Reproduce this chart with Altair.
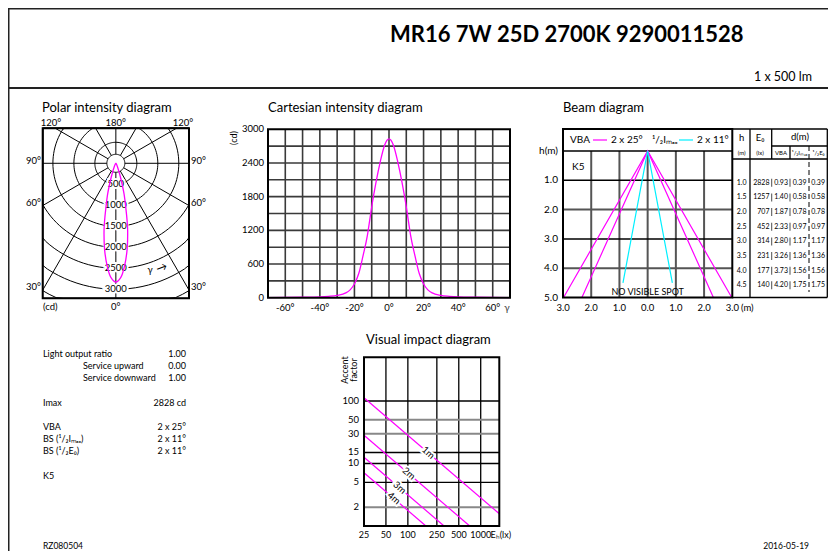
import altair as alt
import numpy as np
import pandas as pd

FONT = "Lato"
NARROW = "Liberation Sans Narrow, Lato"
MAG = "#ff00ff"
CYAN = "#00f0ff"
M = 8  # page margin of the html page

# ---------------- data ----------------
gamma_deg = [-90, -80, -70, -60, -50, -40, -35, -30, -25, -22.5, -20, -17.5, -15, -12.5, -11, -10,
             -7.5, -5, -2.5, 0, 2.5, 5, 7.5, 10, 11, 12.5, 15, 17.5, 20, 22.5, 25, 30, 35, 40,
             50, 60, 70, 80, 90]
intensity_cd = [0, 1, 3, 5, 8, 15, 25, 42, 85, 140, 245, 430, 750, 1110, 1414, 1620,
                2060, 2430, 2720, 2828, 2720, 2430, 2060, 1620, 1414, 1110, 750, 430, 245, 140, 85, 42, 25, 15,
                8, 5, 3, 1, 0]

cart_x_ticks = [-60, -40, -20, 0, 20, 40, 60]
cart_y_ticks = [0, 600, 1200, 1800, 2400, 3000]
cart_x_grid = [-60, -50, -40, -30, -20, -10, 0, 10, 20, 30, 40, 50, 60]
cart_y_grid = [300, 600, 900, 1200, 1500, 1800, 2100, 2400, 2700]

polar_rings = [214, 500, 1000, 1500, 2000, 2500, 3000, 3500, 4000]
polar_ring_labels = [500, 1000, 1500, 2000, 2500, 3000]
polar_spokes = [0, 30, 60, 90, 120, 150, 180, 210, 240, 270, 300, 330]

beam_h_ticks = [0, 1, 2, 3, 4, 5]
beam_h_labels = ["h(m)", "1.0", "2.0", "3.0", "4.0", "5.0"]
beam_x_ticks = [-3, -2, -1, 0, 1, 2, 3]
beam_x_labels = ["3.0", "2.0", "1.0", "0.0", "1.0", "2.0", "3.0"]
beam_grid_x = [-2, -1, 0, 1, 2]
beam_grid_h = [1, 2, 3, 4]
beam_grid_h_dark = [True, False, True, False]
vba_x = [-2.33, 0, 2.33]
vba_outer_x = [-2.98, 0, 2.98]
vba_h = [5, 0, 5]
half_imax_x = [-0.875, 0, 0.875]
half_imax_h = [4.5, 0, 4.5]

table_h = [1.0, 1.5, 2.0, 2.5, 3.0, 3.5, 4.0, 4.5]
table_e0 = [2828, 1257, 707, 452, 314, 231, 177, 140]
table_d_vba = [0.93, 1.40, 1.87, 2.33, 2.80, 3.26, 3.73, 4.20]
table_d_half_imax = [0.39, 0.58, 0.78, 0.97, 1.17, 1.36, 1.56, 1.75]
table_d_half_e0 = [0.39, 0.58, 0.78, 0.97, 1.17, 1.36, 1.56, 1.75]

vis_x_ticks = [25, 50, 100, 250, 500, 1000]
vis_y_ticks = [2, 5, 10, 15, 30, 50, 100]
vis_y_grid_grey = [True, False, False, False, True, True, False]
vis_names = ["1m", "2m", "3m", "4m"]
vis_line_E = [[25, 1800], [25, 707], [25, 314], [25, 177]]
vis_line_A = [[113, 1.57], [28.3, 1], [12.6, 1], [7.1, 1]]
vis_label_E = [190, 103, 77, 64]
vis_label_A = [14.9, 6.9, 4.1, 2.77]

# ---------------- panel layout (page pixels) ----------------
PAN = {
    "polar": dict(x=[-1743, 1743], xr=[42.7, 189], y=[-833, 3214], yr=[128.3, 298.3]),
    "cart": dict(x=[-70, 70], xr=[268, 510], y=[0, 3000], yr=[297.7, 129.3]),
    "beam": dict(x=[-3, 3], xr=[563, 732.3], y=[-0.75, 5], yr=[129, 297.5]),
    "vis": dict(x=[25, 1800], xr=[364, 499.3], y=[1, 500], yr=[526, 357.3], log=True),
}


def scale(p, ax, **kw):
    P = PAN[p]
    rng = [v - M for v in P[ax + "r"]]
    if P.get("log"):
        return alt.Scale(type="log", domain=P[ax], range=rng, nice=False, **kw)
    return alt.Scale(type="linear", domain=P[ax], range=rng, nice=False, zero=False, **kw)


def X(p, f="x", **kw):
    return alt.X(f"{f}:Q", axis=None, scale=scale(p, "x", **kw))


def Y(p, f="y", **kw):
    return alt.Y(f"{f}:Q", axis=None, scale=scale(p, "y", **kw))


def PX(f="x"):
    return alt.X(f"{f}:Q", axis=None, scale=None)


def PY(f="y"):
    return alt.Y(f"{f}:Q", axis=None, scale=None)


def page_text(items, size, align="left", weight="normal", angle=0, color="black", font=FONT):
    df = pd.DataFrame(items, columns=["t", "x", "y"])
    df["x"] = df["x"] - M
    df["y"] = df["y"] - M
    return alt.Chart(df).mark_text(align=align, baseline="middle", fontSize=size, fontWeight=weight,
                                   angle=angle, color=color, font=font).encode(x=PX(), y=PY(), text="t:N")


def page_rules(segs, color="black", width=1.0, dash=None):
    df = pd.DataFrame(segs, columns=["x", "y", "x2", "y2"])
    for c in ["x", "x2"]:
        df[c] = df[c] - M
    for c in ["y", "y2"]:
        df[c] = df[c] - M
    kw = dict(color=color, strokeWidth=width)
    if dash:
        kw["strokeDash"] = dash
    return alt.Chart(df).mark_rule(**kw).encode(x=PX(), y=PY(), x2=alt.X2("x2:Q"), y2=alt.Y2("y2:Q"))


def frame(p, width=2.0):
    P = PAN[p]
    df = pd.DataFrame({"x": [P["x"][0]], "x2": [P["x"][1]], "y": [P["y"][0]], "y2": [P["y"][1]]})
    return alt.Chart(df).mark_rect(fillOpacity=0, stroke="black", strokeWidth=width).encode(
        x=X(p), x2="x2:Q", y=Y(p), y2="y2:Q")


layers = []

# ---------------- page frame ----------------
layers.append(page_rules([(M + 0.5, M + 0.5, 836, M + 0.5), (M + 0.5, M, M + 0.5, 559),
                          (M, 88, 836, 88)], color="#222", width=2))
layers.append(page_text([("MR16 7W 25D 2700K 9290011528", 390, 35)], 22, weight="bold"))
layers.append(page_text([("1 x 500 lm", 812, 77)], 12.5, align="right"))
layers.append(page_text([("Polar intensity diagram", 42, 108), ("Cartesian intensity diagram", 268, 108),
                         ("Beam diagram", 563, 108), ("Visual impact diagram", 366, 340)], 13))

# ---------------- polar diagram ----------------
ang = np.deg2rad(np.arange(0, 361, 3))
rows = []
for r in polar_rings:
    for a in ang:
        rows.append({"r": r, "a": a, "x": r * np.sin(a), "y": r * np.cos(a)})
rings_df = pd.DataFrame(rows)
layers.append(alt.Chart(rings_df).mark_line(color="black", strokeWidth=1).encode(
    x=X("polar", clamp=True), y=Y("polar", clamp=True), detail="r:N", order="a:Q"))

P = PAN["polar"]
srows = []
for s in polar_spokes:
    a = np.deg2rad(s)
    dx, dy = np.sin(a), np.cos(a)
    ts = []
    if abs(dx) > 1e-9:
        ts.append(P["x"][1] / abs(dx))
    if abs(dy) > 1e-9:
        ts.append((P["y"][1] if dy > 0 else -P["y"][0]) / abs(dy))
    t = min(ts)
    srows.append({"x": polar_rings[0] * dx, "y": polar_rings[0] * dy, "x2": t * dx, "y2": t * dy})
spokes_df = pd.DataFrame(srows)
layers.append(alt.Chart(spokes_df).mark_rule(color="black", strokeWidth=1).encode(
    x=X("polar"), y=Y("polar"), x2="x2:Q", y2="y2:Q"))

lab_df = pd.DataFrame({"v": polar_ring_labels, "x": [0] * len(polar_ring_labels)})
for stroke in [True, False]:
    kw = dict(stroke="white", strokeWidth=4) if stroke else {}
    layers.append(alt.Chart(lab_df).mark_text(fontSize=9.5, font=FONT, color="black", baseline="middle", **kw)
                  .encode(x=X("polar"), y=Y("polar", "v"), text="v:Q"))

pol_df = pd.DataFrame({"g": gamma_deg, "I": intensity_cd})
layers.append(alt.Chart(pol_df).transform_calculate(
    px="datum.I * sin(datum.g * PI / 180)", py="datum.I * cos(datum.g * PI / 180)"
).mark_line(color=MAG, strokeWidth=1.3, interpolate="catmull-rom").encode(
    x=X("polar", "px"), y=Y("polar", "py"), order="g:Q"))
layers.append(frame("polar", 2))
layers.append(page_text([("120°", 51, 123), ("180°", 115.8, 123), ("120°", 183, 123), ("0°", 115.8, 307)],
                        9.5, align="center"))
layers.append(page_text([("90°", 41, 161), ("60°", 41, 203), ("30°", 41, 287)], 9.5, align="right"))
layers.append(page_text([("90°", 191, 161), ("60°", 191, 203), ("30°", 191, 287), ("(cd)", 43, 307)], 9.5))
layers.append(page_text([("γ", 150, 270)], 9.5, align="center"))
layers.append(page_text([("→", 162, 268)], 11, align="center", angle=340))

# ---------------- cartesian diagram ----------------
cx = pd.DataFrame({"x": cart_x_grid, "y": 0, "y2": 3000})
layers.append(alt.Chart(cx).mark_rule(color="#3a3a3a", strokeWidth=1.6).encode(
    x=X("cart"), y=Y("cart"), y2="y2:Q"))
cy = pd.DataFrame({"y": cart_y_grid, "x": -70, "x2": 70})
layers.append(alt.Chart(cy).mark_rule(color="#3a3a3a", strokeWidth=1.6).encode(
    x=X("cart"), x2="x2:Q", y=Y("cart")))
layers.append(alt.Chart(pol_df).transform_filter("abs(datum.g) <= 70").mark_line(
    color=MAG, strokeWidth=1.3, interpolate="monotone").encode(x=X("cart", "g"), y=Y("cart", "I")))
layers.append(frame("cart", 2))
cyt = pd.DataFrame({"v": cart_y_ticks, "x": -70})
layers.append(alt.Chart(cyt).mark_text(fontSize=9.5, font=FONT, align="right", baseline="middle", dx=-4)
              .encode(x=X("cart"), y=Y("cart", "v"), text="v:Q"))
cxt = pd.DataFrame({"v": cart_x_ticks, "y": 0, "t": [f"{v}°" for v in cart_x_ticks]})
layers.append(alt.Chart(cxt).mark_text(fontSize=9.5, font=FONT, align="center", baseline="middle", dy=10)
              .encode(x=X("cart", "v"), y=Y("cart"), text="t:N"))
layers.append(page_text([("(cd)", 234, 138)], 9, align="center", angle=270))
layers.append(page_text([("γ", 507, 308)], 10, align="center", color="#444"))

# ---------------- beam diagram ----------------
bgx = pd.DataFrame({"x": beam_grid_x, "y": 0, "y2": 5})
layers.append(alt.Chart(bgx).mark_rule(color="#555", strokeWidth=2).encode(x=X("beam"), y=Y("beam"), y2="y2:Q"))
bgh = pd.DataFrame({"y": beam_grid_h, "x": -3, "x2": 3, "dark": beam_grid_h_dark})
layers.append(alt.Chart(bgh).transform_filter("!datum.dark").mark_rule(color="#555", strokeWidth=2).encode(
    x=X("beam"), x2="x2:Q", y=Y("beam")))
layers.append(alt.Chart(bgh).transform_filter("datum.dark").mark_rule(color="black", strokeWidth=1.5).encode(
    x=X("beam"), x2="x2:Q", y=Y("beam")))
hdr = pd.DataFrame({"y": [0], "x": [-3], "x2": [3]})
layers.append(alt.Chart(hdr).mark_rule(color="black", strokeWidth=1.5).encode(x=X("beam"), x2="x2:Q", y=Y("beam")))

for xs, hs, col in [(vba_outer_x, vba_h, MAG), (vba_x, vba_h, MAG), (half_imax_x, half_imax_h, CYAN)]:
    d = pd.DataFrame({"x": xs, "y": hs, "o": range(len(xs))})
    layers.append(alt.Chart(d).mark_line(color=col, strokeWidth=1.2).encode(
        x=X("beam"), y=Y("beam"), order="o:Q"))
layers.append(frame("beam", 2))

bht = pd.DataFrame({"v": beam_h_ticks, "t": beam_h_labels, "x": -3})
layers.append(alt.Chart(bht).mark_text(fontSize=10, font=FONT, align="right", baseline="middle", dx=-5)
              .encode(x=X("beam"), y=Y("beam", "v"), text="t:N"))
bxt = pd.DataFrame({"v": beam_x_ticks, "t": beam_x_labels, "y": 5})
layers.append(alt.Chart(bxt).mark_text(fontSize=9.5, font=FONT, align="center", baseline="middle", dy=10)
              .encode(x=X("beam", "v"), y=Y("beam"), text="t:N"))
layers.append(page_text([("(m)", 741, 307.5)], 9.5))
nvs = pd.DataFrame({"x": [0], "y": [4.8], "t": ["NO VISIBLE SPOT"]})
layers.append(alt.Chart(nvs).mark_text(fontSize=9, font=FONT, align="center", baseline="middle")
              .encode(x=X("beam"), y=Y("beam"), text="t:N"))

# legend in header
layers.append(page_text([("VBA", 570, 140), ("2 x 25°", 611, 140), ("¹/₂Iₘₐₓ", 652, 140),
                         ("2 x 11°", 697, 140), ("K5", 572, 167)], 10))
layers.append(page_rules([(593, 140, 607, 140)], color=MAG, width=1.2))
layers.append(page_rules([(679, 140, 693, 140)], color=CYAN, width=1.2))

# table frame
TR = 827.3
layers.append(page_rules([(732.3, 129, TR, 129), (732.3, 297.5, TR, 297.5), (TR, 129, TR, 297.5),
                          (750, 129, 750, 297.5), (771.7, 129, 771.7, 159), (790, 146, 790, 159),
                          (771.7, 146, TR, 146), (732.3, 159, TR, 159)], color="black", width=1.3))
layers.append(page_rules([(809, 146, 809, 292)], color="black", width=1, dash=[5, 3]))
layers.append(page_text([("h", 741.7, 138), ("E₀", 760, 138), ("d(m)", 800, 137)], 9.5, align="center"))
layers.append(page_text([("(m)", 741.7, 152.5), ("(lx)", 760, 152.5), ("VBA", 781, 152.5), ("¹/₂Iₘₐₓ", 799.5, 152.5),
                         ("¹/₂E₀", 818.5, 152.5)], 6, align="center"))

tab = pd.DataFrame({"h": table_h, "e0": table_e0, "vba": table_d_vba, "hi": table_d_half_imax, "he": table_d_half_e0})
for col, xpx, al, fmt in [("h", 741.7, "center", ".1f"), ("e0", 769.5, "right", "d"), ("vba", 788, "right", ".2f"),
                          ("hi", 806.5, "right", ".2f"), ("he", 825, "right", ".2f")]:
    layers.append(alt.Chart(tab).mark_text(fontSize=7, font=NARROW, align=al, baseline="middle", dy=2.5)
                  .encode(x=alt.value(xpx - M), y=Y("beam", "h"), text=alt.Text(f"{col}:Q", format=fmt)))
for xpx in [771.7, 790]:
    layers.append(alt.Chart(tab).mark_tick(orient="vertical", size=8, thickness=1, color="black", yOffset=2.5)
                  .encode(x=alt.value(xpx - M), y=Y("beam", "h")))

# ---------------- visual impact diagram ----------------
vgx = pd.DataFrame({"x": vis_x_ticks[1:], "y": 1, "y2": 500})
layers.append(alt.Chart(vgx).mark_rule(color="black", strokeWidth=1.3).encode(x=X("vis"), y=Y("vis"), y2="y2:Q"))
vgy = pd.DataFrame({"y": vis_y_ticks, "x": 25, "x2": 1800, "grey": vis_y_grid_grey})
layers.append(alt.Chart(vgy).transform_filter("datum.grey").mark_rule(color="#888", strokeWidth=2).encode(
    x=X("vis"), x2="x2:Q", y=Y("vis")))
layers.append(alt.Chart(vgy).transform_filter("!datum.grey").mark_rule(color="black", strokeWidth=1.3).encode(
    x=X("vis"), x2="x2:Q", y=Y("vis")))
vrows = []
for n, es, as_ in zip(vis_names, vis_line_E, vis_line_A):
    for i, (e, a) in enumerate(zip(es, as_)):
        vrows.append({"n": n, "x": e, "y": a, "o": i})
layers.append(alt.Chart(pd.DataFrame(vrows)).mark_line(color=MAG, strokeWidth=1.2).encode(
    x=X("vis"), y=Y("vis"), detail="n:N", order="o:Q"))
vl = pd.DataFrame({"x": vis_label_E, "y": vis_label_A, "t": vis_names})
for stroke in [True, False]:
    kw = dict(stroke="white", strokeWidth=4) if stroke else {}
    layers.append(alt.Chart(vl).mark_text(fontSize=9.5, font=FONT, angle=41, align="center", baseline="middle", **kw)
                  .encode(x=X("vis"), y=Y("vis"), text="t:N"))
layers.append(frame("vis", 2))
vyt = pd.DataFrame({"v": vis_y_ticks, "x": 25})
layers.append(alt.Chart(vyt).mark_text(fontSize=9.5, font=FONT, align="right", baseline="middle", dx=-5)
              .encode(x=X("vis"), y=Y("vis", "v"), text="v:Q"))
vxt = pd.DataFrame({"v": vis_x_ticks, "y": 1})
layers.append(alt.Chart(vxt).mark_text(fontSize=9, font=FONT, align="center", baseline="middle", dy=9)
              .encode(x=X("vis", "v"), y=Y("vis"), text="v:Q"))
layers.append(page_text([("Eₕ(lx)", 490.5, 535)], 9))
layers.append(page_text([("Accent", 345, 370), ("factor", 354, 370)], 9, align="center", angle=270))

# ---------------- left information block ----------------
layers.append(page_text([("Light output ratio", 43, 354), ("Service upward", 83, 366),
                         ("Service downward", 83, 378), ("Imax", 43, 403), ("VBA", 43, 427),
                         ("BS (¹/₂Iₘₐₓ)", 43, 439), ("BS (¹/₂E₀)", 43, 451), ("K5", 43, 476)], 9))
layers.append(page_text([("1.00", 186, 354), ("0.00", 186, 366), ("1.00", 186, 378), ("2828 cd", 186, 403),
                         ("2 x 25°", 186, 427), ("2 x 11°", 186, 439), ("2 x 11°", 186, 451)], 9, align="right"))

# ---------------- footer ----------------
layers.append(page_text([("RZ080504", 43, 546)], 8.5))
layers.append(page_text([("2016-05-19", 809, 546)], 8.5, align="right"))

chart = alt.layer(*layers).resolve_scale(x="independent", y="independent").properties(
    width=820, height=543, padding=0, autosize=alt.AutoSizeParams(type="none")
).configure_view(stroke=None)

chart.save("out.html", embed_options={"renderer": "svg", "actions": False})
